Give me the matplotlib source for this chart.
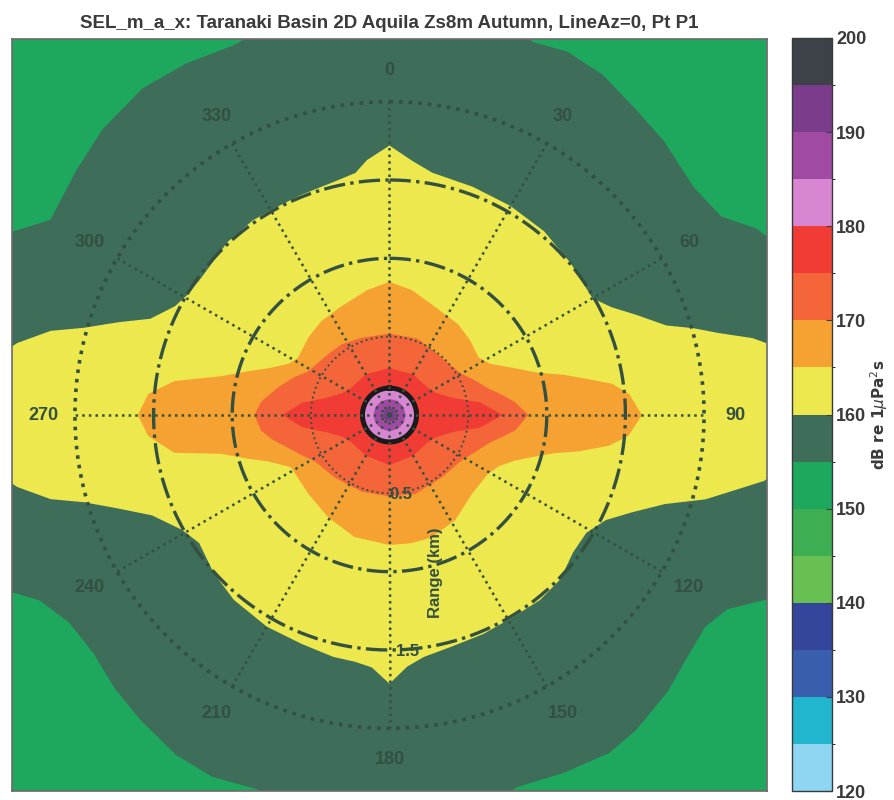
import numpy as np
import matplotlib
matplotlib.use('Agg')
from matplotlib import pyplot as plt
from matplotlib import colors
from matplotlib import cm

# colour bands, 5 dB steps (dB re 1uPa^2 s)
levels = list(range(120, 205, 5))
level_colors = ['#8ed6f2', '#22b6ce', '#3a5eae', '#33469c', '#68c052', '#3eae52', '#1ea85e', '#3e6e5a',
                '#ece84e', '#f6a232', '#f4663a', '#f03c34', '#d886d2', '#a04aa4', '#7c3c8c', '#3c4248']

# range (km) of each SEL contour vs azimuth (deg, clockwise from north)
az155 = [0, 10, 21, 26, 32, 39, 45, 53, 59, 63, 70, 80, 90, 100, 110, 116, 120, 124, 130, 135,
         142, 147, 154, 161, 170, 180, 190, 198, 206, 212, 219, 225, 231, 237, 242, 246, 255, 270, 285, 292,
         296, 300, 308, 315, 323, 330, 337, 345, 352]
r155 = [2.80, 2.72, 2.55, 2.58, 2.56, 2.50, 2.47, 2.42, 2.46, 2.62, 2.80, 2.90, 2.90, 2.90, 2.80, 2.68, 2.48, 2.42, 2.45, 2.50,
        2.55, 2.57, 2.54, 2.51, 2.62, 2.80, 2.70, 2.53, 2.57, 2.56, 2.51, 2.47, 2.42, 2.43, 2.52, 2.72, 2.85, 2.90, 2.85, 2.75,
        2.67, 2.49, 2.53, 2.58, 2.61, 2.59, 2.56, 2.62, 2.72]

az160 = [0, 5, 10, 20, 30, 40, 50, 60, 64, 68, 72, 74, 76, 78, 80, 90, 100, 102, 105, 108,
         112, 116, 121, 127, 134, 141, 149, 157, 165, 172, 176, 180, 184, 188, 193, 201, 210, 220, 228, 236,
         241, 247, 251, 254, 256, 259, 262, 270, 278, 281, 284, 286, 289, 292, 297, 301, 306, 317, 325, 331,
         338, 347, 352, 355]
r160 = [1.72, 1.63, 1.57, 1.55, 1.54, 1.53, 1.505, 1.49, 1.57, 1.70, 1.85, 2.01, 2.16, 2.36, 2.50, 2.90, 2.42, 2.27, 2.08, 1.84,
        1.66, 1.53, 1.46, 1.46, 1.51, 1.52, 1.51, 1.52, 1.53, 1.56, 1.61, 1.715, 1.615, 1.59, 1.585, 1.564, 1.56, 1.54, 1.505, 1.46,
        1.51, 1.64, 1.83, 2.02, 2.22, 2.41, 2.55, 2.90, 2.55, 2.41, 2.22, 2.02, 1.82, 1.64, 1.53, 1.495, 1.483, 1.51, 1.516, 1.509,
        1.513, 1.531, 1.56, 1.634]

az165 = [0, 10, 21, 37, 47, 57, 63, 69, 74, 77, 80, 82, 85, 90, 95, 98, 101, 103, 107, 110,
         115, 121, 134, 148, 161, 170, 180, 196, 211, 226, 242, 249, 253, 257, 260, 265, 270, 275, 279, 283,
         287, 291, 297, 302, 314, 324, 336, 350]
r165 = [0.85, 0.81, 0.755, 0.725, 0.70, 0.675, 0.72, 0.84, 0.98, 1.14, 1.30, 1.43, 1.53, 1.605, 1.525, 1.41, 1.22, 1.08, 0.93, 0.85,
        0.77, 0.73, 0.727, 0.79, 0.826, 0.83, 0.83, 0.81, 0.76, 0.72, 0.71, 0.826, 0.95, 1.10, 1.39, 1.54, 1.60, 1.54, 1.385, 1.10,
        0.95, 0.83, 0.72, 0.687, 0.715, 0.739, 0.758, 0.81]

az170 = [0, 20, 39, 50, 60, 67, 75, 80, 84, 90, 97, 101, 106, 114, 122, 140, 162, 180, 200, 221,
         238, 246, 252, 258, 263, 270, 276, 284, 292, 298, 315, 326, 340]
r170 = [0.52, 0.518, 0.496, 0.50, 0.527, 0.58, 0.652, 0.73, 0.80, 0.883, 0.805, 0.73, 0.656, 0.59, 0.544, 0.519, 0.53, 0.52, 0.52, 0.53,
        0.559, 0.62, 0.678, 0.76, 0.822, 0.858, 0.82, 0.73, 0.65, 0.589, 0.55, 0.544, 0.524]

az175 = [0, 30, 55, 65, 75, 82, 90, 98, 105, 115, 125, 150, 180, 210, 235, 245, 255, 262, 270, 278, 285, 295, 305, 330]
r175 = [0.30, 0.30, 0.30, 0.33, 0.42, 0.58, 0.72, 0.58, 0.42, 0.33, 0.30, 0.30, 0.32, 0.30, 0.30, 0.33, 0.42, 0.56, 0.68, 0.56, 0.42, 0.33, 0.30, 0.30]

# near-source contours are close to circular
inner_levels = [180, 185, 190]
inner_radii = [0.175, 0.10, 0.04]

grid_rings = [0.5, 1.0, 1.5, 2.0]
ring_styles = [':', '-.', '-.', ':']
ring_widths = [1.4, 2.4, 2.4, 2.6]
angle_ticks = list(range(0, 360, 30))

grid_c = '#34503f'
narrow = ['Liberation Sans Narrow', 'Liberation Sans', 'DejaVu Sans']

fig = plt.figure(figsize=(8.95, 8.0), dpi=100)
ax = fig.add_axes([12 / 895, 9 / 800, 755 / 895, 752 / 800])
ax.set_facecolor(level_colors[levels.index(150)])

for lev, az, rr in [(155, az155, r155), (160, az160, r160), (165, az165, r165),
                    (170, az170, r170), (175, az175, r175)]:
    th = np.radians(az)
    rr = np.asarray(rr)
    ax.fill(rr * np.sin(th), rr * np.cos(th), color=level_colors[levels.index(lev)], lw=0, zorder=1)

t = np.linspace(0, 2 * np.pi, 361)
for lev, rad in zip(inner_levels, inner_radii):
    ax.fill(rad * np.sin(t), rad * np.cos(t), color=level_colors[levels.index(lev)], lw=0, zorder=2)
ax.plot(0.172 * np.sin(t), 0.172 * np.cos(t), color='#1a1a1a', lw=3.6, zorder=3)

# polar grid
for a in angle_ticks:
    th = np.radians(a)
    ax.plot([0, 2.0 * np.sin(th)], [0, 2.0 * np.cos(th)], ls=':', color=grid_c, lw=1.8, zorder=4)
    ax.text(2.2 * np.sin(th), 2.2 * np.cos(th), str(a), ha='center', va='center',
            fontsize=13, fontweight='bold', color=grid_c, family=narrow, zorder=5)
for rad, ls, lw in zip(grid_rings, ring_styles, ring_widths):
    ax.plot(rad * np.sin(t), rad * np.cos(t), ls=ls, color=grid_c, lw=lw, zorder=4)

ax.text(0.0, -0.51, '0.5', ha='left', va='center', fontsize=12, fontweight='bold',
        color=grid_c, family=narrow, zorder=5)
ax.text(0.04, -1.51, '1.5', ha='left', va='center', fontsize=12, fontweight='bold',
        color=grid_c, family=narrow, zorder=5)
ax.text(0.29, -1.01, 'Range (km)', rotation=90, ha='center', va='center', fontsize=12,
        fontweight='bold', color=grid_c, family=narrow, zorder=5)

ax.set_xlim(-2.4, 2.4)
ax.set_ylim(-2.4, 2.4)
ax.set_xticks([])
ax.set_yticks([])
for sp in ax.spines.values():
    sp.set_color('#6a6a6a')
    sp.set_linewidth(1.2)
ax.set_title('SEL_m_a_x: Taranaki Basin 2D Aquila Zs8m Autumn, LineAz=0, Pt P1',
             fontsize=13.5, fontweight='bold', color='#3a3a3a', family=narrow, pad=8)

# colour bar
cmap = colors.ListedColormap(level_colors)
norm = colors.BoundaryNorm(levels, cmap.N)
cax = fig.add_axes([792 / 895, 9 / 800, 40 / 895, 753 / 800])
cb = fig.colorbar(cm.ScalarMappable(norm=norm, cmap=cmap), cax=cax, ticks=list(range(120, 201, 10)))
cb.outline.set_edgecolor('#3a3a3a')
cb.outline.set_linewidth(1.0)
cax.tick_params(direction='in', length=4, labelsize=13, colors='#3a3a3a', pad=3)
for lab in cax.get_yticklabels():
    lab.set_family(narrow)
    lab.set_fontweight('bold')
cb.set_label('dB re 1$\\mu$Pa$^2$s', fontsize=11, fontweight='bold', color='#3a3a3a', labelpad=1)

fig.savefig('out.png', dpi=100)
